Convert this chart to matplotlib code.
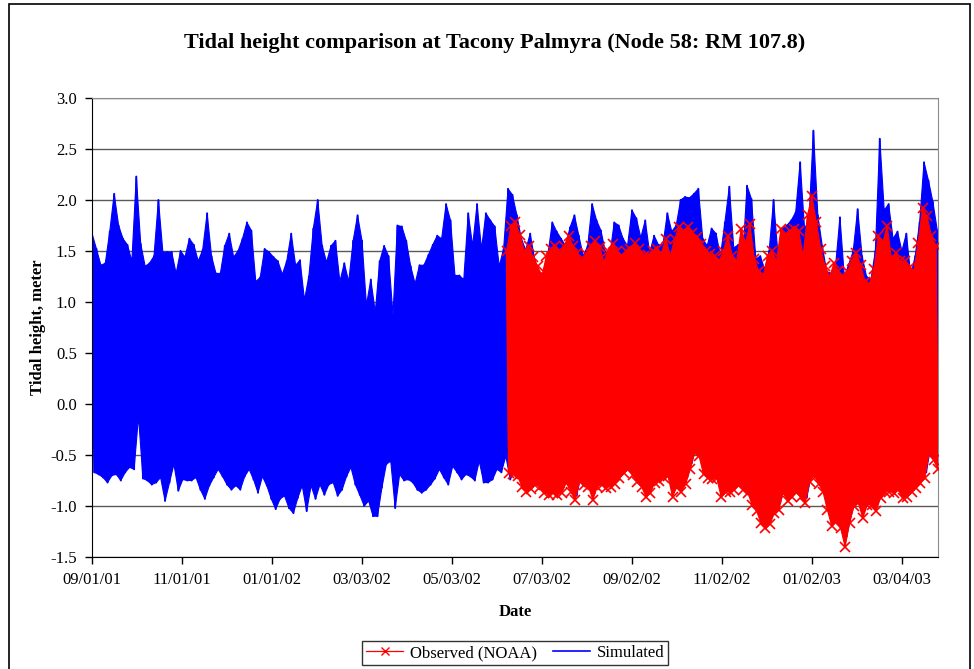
import numpy as np
import matplotlib
matplotlib.use("Agg")
import matplotlib.pyplot as plt
import matplotlib.dates as mdates
from matplotlib.patches import Rectangle
from matplotlib.lines import Line2D

plt.rcParams['font.family'] = ['Liberation Serif', 'DejaVu Serif']

# tidal range: one high and one low every 3 days
sample_days = 3
sim_start = '2001-09-01'
obs_start = '2002-06-09'
axis_end_days = 573.5

# Simulated (model) highs and lows, m
sim_high = [
    1.67, 1.52, 1.36, 1.38, 1.69, 2.06, 1.75, 1.62, 1.56, 1.40,
    2.23, 1.57, 1.35, 1.38, 1.45, 2.00, 1.49, 1.49, 1.49, 1.28,
    1.50, 1.44, 1.62, 1.56, 1.40, 1.51, 1.87, 1.45, 1.28, 1.28,
    1.55, 1.67, 1.44, 1.50, 1.62, 1.78, 1.70, 1.20, 1.24, 1.52,
    1.49, 1.44, 1.40, 1.27, 1.40, 1.67, 1.36, 1.41, 1.02, 1.25,
    1.72, 2.00, 1.55, 1.39, 1.55, 1.60, 1.20, 1.38, 1.20, 1.60,
    1.85, 1.60, 0.97, 1.22, 0.90, 1.40, 1.55, 1.45, 0.87, 1.75,
    1.74, 1.60, 1.35, 1.18, 1.36, 1.36, 1.46, 1.56, 1.65, 1.62,
    1.96, 1.80, 1.26, 1.26, 1.22, 1.87, 1.55, 1.96, 1.52, 1.87,
    1.80, 1.74, 1.35, 1.52, 2.11, 2.05, 1.85, 1.62, 1.51, 1.67,
    1.42, 1.29, 1.28, 1.46, 1.78, 1.69, 1.62, 1.55, 1.73, 1.85,
    1.65, 1.45, 1.55, 1.96, 1.80, 1.70, 1.49, 1.46, 1.78, 1.75,
    1.62, 1.55, 1.90, 1.82, 1.63, 1.80, 1.48, 1.65, 1.56, 1.56,
    1.87, 1.69, 1.75, 2.00, 2.03, 2.02, 2.06, 2.11, 1.62, 1.55,
    1.72, 1.67, 1.45, 1.78, 2.13, 1.53, 1.56, 1.40, 2.14, 2.01,
    1.42, 1.45, 1.32, 1.50, 2.00, 1.46, 1.72, 1.75, 1.80, 1.88,
    2.37, 1.72, 1.80, 2.68, 1.85, 1.55, 1.30, 1.28, 1.35, 1.83,
    1.24, 1.37, 1.50, 1.91, 1.45, 1.25, 1.22, 1.50, 2.60, 1.90,
    1.96, 1.62, 1.69, 1.50, 1.67, 1.26, 1.45, 1.78, 2.37, 2.19,
    1.98, 1.70,
]
sim_low = [
    -0.67, -0.69, -0.72, -0.77, -0.70, -0.69, -0.75, -0.67, -0.62, -0.64,
    -0.12, -0.73, -0.75, -0.79, -0.77, -0.72, -0.95, -0.77, -0.59, -0.85,
    -0.74, -0.75, -0.75, -0.72, -0.84, -0.93, -0.80, -0.72, -0.64, -0.71,
    -0.79, -0.84, -0.80, -0.84, -0.71, -0.64, -0.74, -0.87, -0.71, -0.80,
    -0.93, -1.03, -0.93, -0.90, -1.02, -1.07, -0.92, -0.80, -1.05, -0.80,
    -0.93, -0.79, -0.89, -0.79, -0.77, -0.90, -0.84, -0.71, -0.62, -0.79,
    -0.89, -1.00, -0.95, -1.10, -1.10, -0.82, -0.59, -0.56, -1.02, -0.69,
    -0.75, -0.74, -0.77, -0.84, -0.87, -0.84, -0.79, -0.73, -0.64, -0.72,
    -0.79, -0.61, -0.67, -0.74, -0.69, -0.71, -0.75, -0.56, -0.77, -0.77,
    -0.74, -0.64, -0.67, -0.51, -0.74, -0.64, -0.66, -0.75, -0.80, -0.78,
    -0.74, -0.76, -0.82, -0.85, -0.81, -0.83, -0.82, -0.72, -0.80, -0.90,
    -0.70, -0.74, -0.75, -0.88, -0.76, -0.73, -0.77, -0.75, -0.72, -0.68,
    -0.62, -0.58, -0.64, -0.70, -0.76, -0.85, -0.82, -0.71, -0.70, -0.67,
    -0.66, -0.86, -0.75, -0.80, -0.72, -0.58, -0.42, -0.46, -0.63, -0.68,
    -0.68, -0.67, -0.86, -0.80, -0.82, -0.78, -0.73, -0.78, -0.82, -0.93,
    -0.98, -1.08, -1.12, -1.10, -1.00, -0.97, -0.82, -0.90, -0.85, -0.80,
    -0.85, -0.92, -0.70, -0.65, -0.72, -0.80, -0.97, -1.12, -1.08, -1.14,
    -1.30, -1.10, -0.94, -0.90, -1.05, -0.92, -0.93, -0.98, -0.86, -0.80,
    -0.80, -0.81, -0.78, -0.86, -0.85, -0.80, -0.76, -0.71, -0.67, -0.42,
    -0.50, -0.58,
]

# Observed (NOAA) highs and lows, m
obs_high = [
    1.50, 1.75, 1.78, 1.66, 1.50, 1.55, 1.44, 1.35, 1.26, 1.45,
    1.52, 1.55, 1.48, 1.55, 1.65, 1.55, 1.48, 1.40, 1.47, 1.55,
    1.60, 1.54, 1.40, 1.50, 1.57, 1.50, 1.45, 1.50, 1.52, 1.58,
    1.52, 1.45, 1.46, 1.50, 1.52, 1.48, 1.62, 1.45, 1.62, 1.74,
    1.70, 1.74, 1.68, 1.64, 1.57, 1.50, 1.47, 1.45, 1.40, 1.50,
    1.65, 1.45, 1.40, 1.72, 1.58, 1.76, 1.42, 1.30, 1.26, 1.45,
    1.50, 1.40, 1.72, 1.66, 1.70, 1.72, 1.70, 1.45, 1.85, 2.04,
    1.78, 1.52, 1.35, 1.25, 1.38, 1.30, 1.24, 1.30, 1.40, 1.48,
    1.36, 1.20, 1.18, 1.32, 1.65, 1.58, 1.75, 1.42, 1.48, 1.40,
    1.40, 1.33, 1.30, 1.58, 1.92, 1.84, 1.65, 1.55,
]
obs_low = [
    -0.68, -0.69, -0.71, -0.81, -0.86, -0.83, -0.79, -0.81, -0.87, -0.89,
    -0.87, -0.89, -0.87, -0.77, -0.86, -0.94, -0.76, -0.79, -0.81, -0.94,
    -0.81, -0.79, -0.82, -0.81, -0.78, -0.73, -0.68, -0.64, -0.70, -0.76,
    -0.81, -0.91, -0.87, -0.77, -0.75, -0.73, -0.71, -0.91, -0.81, -0.86,
    -0.78, -0.64, -0.48, -0.51, -0.69, -0.73, -0.74, -0.73, -0.91, -0.86,
    -0.86, -0.84, -0.79, -0.84, -0.87, -0.99, -1.05, -1.17, -1.22, -1.18,
    -1.07, -1.04, -0.87, -0.95, -0.91, -0.86, -0.91, -0.97, -0.76, -0.70,
    -0.78, -0.86, -1.04, -1.20, -1.15, -1.22, -1.40, -1.17, -1.00, -0.97,
    -1.12, -0.99, -0.99, -1.05, -0.92, -0.86, -0.86, -0.87, -0.84, -0.92,
    -0.91, -0.86, -0.82, -0.77, -0.73, -0.47, -0.55, -0.64,
]

# x axis ticks every 61 days from the start
tick_step = 61
n_ticks = 10


def tide_times(start, n):
    # high water at each sample, low water half a sample later
    t_high = mdates.date2num(np.datetime64(start)) + np.arange(n) * sample_days
    return t_high, t_high + sample_days / 2


def draw_tide(ax, start, highs, lows, color, z, **line_kw):
    t_high, t_low = tide_times(start, len(highs))
    # band between the highs and the lows, as the dense hourly trace looks
    ax.fill(np.r_[t_high, t_low[::-1]], np.r_[highs, lows[::-1]],
            color=color, lw=0.8, zorder=z)
    t = np.column_stack([t_high, t_low]).ravel()
    h = np.column_stack([highs, lows]).ravel()
    ax.plot(t, h, color=color, zorder=z + 0.5, **line_kw)


fig = plt.figure(figsize=(9.74, 6.69), dpi=100)
ax = fig.add_axes([0.0945, 0.1674, 0.8686, 0.6861])

draw_tide(ax, sim_start, sim_high, sim_low, '#0000FF', 2, lw=1.4)
draw_tide(ax, obs_start, obs_high, obs_low, '#FF0000', 3, lw=1.2,
          marker='x', ms=7, mew=1.2)

x0 = mdates.date2num(np.datetime64(sim_start))
ax.set_xlim(x0, x0 + axis_end_days)
ax.set_ylim(-1.5, 3.0)
ax.set_yticks(np.arange(-1.5, 3.01, 0.5))
ax.yaxis.set_major_formatter(plt.FormatStrFormatter('%.1f'))
ax.set_xticks(x0 + np.arange(n_ticks) * tick_step)
ax.xaxis.set_major_formatter(mdates.DateFormatter('%m/%d/%y'))

ax.grid(axis='y', color='#5a5a5a', lw=1.0, zorder=1)
ax.set_axisbelow(True)
ax.tick_params(axis='both', direction='out', length=5, width=1, labelsize=12, pad=6)
for side in ['top', 'right']:
    ax.spines[side].set_color('#8c8c8c')
for side in ['left', 'bottom']:
    ax.spines[side].set_color('black')

ax.set_ylabel('Tidal height, meter', fontsize=12, fontweight='bold')
ax.yaxis.set_label_coords(-0.055, 0.5)
ax.set_xlabel('Date', fontsize=12, fontweight='bold')
ax.xaxis.set_label_coords(0.5, -0.102)

fig.text(0.508, 1 - 43 / 669, 'Tidal height comparison at Tacony Palmyra (Node 58: RM 107.8)',
         ha='center', va='center', fontsize=16, fontweight='bold')

handles = [
    Line2D([], [], color='#FF0000', lw=0.9, marker='x', ms=6, mew=1.0),
    Line2D([], [], color='#0000FF', lw=1.2),
]
leg = fig.legend(handles, ['Observed (NOAA)', 'Simulated'], loc='center',
                 bbox_to_anchor=(0.529, 0.024), ncol=2, fontsize=12, frameon=True,
                 fancybox=False, edgecolor='black', handlelength=2.2,
                 columnspacing=1.0, handletextpad=0.4, borderpad=0.25)
leg.get_frame().set_linewidth(1.0)

fig.patches.append(Rectangle((9 / 974, -0.01), 961 / 974, 1.01 - 4 / 669,
                             transform=fig.transFigure, fill=False,
                             edgecolor='black', lw=1.2))

fig.savefig('out.png', dpi=100)
